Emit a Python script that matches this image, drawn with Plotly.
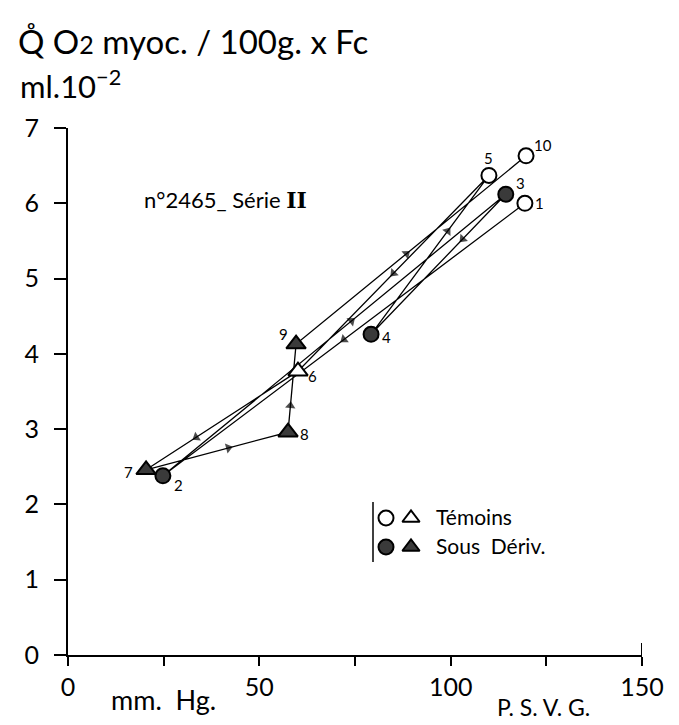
import plotly.graph_objects as go

# ---- data ----
point_ids = ["1", "2", "3", "4", "5", "6", "7", "8", "9", "10"]
psvg_mmhg = [119.4, 24.8, 114.4, 79.2, 110.0, 60.1, 20.4, 57.5, 59.6, 119.7]
qo2_myoc = [6.00, 2.38, 6.12, 4.26, 6.37, 3.77, 2.46, 2.96, 4.13, 6.63]
condition = ["Témoins", "Sous Dériv.", "Sous Dériv.", "Sous Dériv.", "Témoins",
             "Témoins", "Sous Dériv.", "Sous Dériv.", "Sous Dériv.", "Témoins"]
marker_kind = ["circle", "circle", "circle", "circle", "circle",
               "triangle-up", "triangle-up", "triangle-up", "triangle-up", "circle"]
x_tickvals = [0, 50, 100, 150]
y_tickvals = [0, 1, 2, 3, 4, 5, 6, 7]

# ---- style ----
W, H = 679, 725
ML, MR, MT, MB = 60, 45, 120, 78
FONT = "Lato, 'DejaVu Sans', sans-serif"
FILL = "#3a3a3a"
arrow_frac = [0.5, 0.55, 0.32, 0.65, 0.5, 0.67, 0.58, 0.3, 0.48]
label_off = {"1": (15, 0), "2": (16, -9), "3": (15, 11), "4": (15, -3), "5": (0, 17),
             "6": (15, -5), "7": (-18, -2), "8": (16, -2), "9": (-13, 10), "10": (17, 11)}

PW, PH = W - ML - MR, H - MT - MB


def paper_x(px):
    return (px - ML) / PW


def paper_y(py):
    return (H - MB - py) / PH


def data_xy(px, py):
    return ((px - ML) / PW * 150, (H - MB - py) / PH * 7)


fig = go.Figure()

# connecting path 1 -> 10
fig.add_trace(go.Scatter(x=psvg_mmhg, y=qo2_myoc, mode="lines",
                         line=dict(color="black", width=1.3),
                         hoverinfo="skip", showlegend=False, cliponaxis=False))

# direction arrowheads on each segment
for i in range(len(psvg_mmhg) - 1):
    f = arrow_frac[i]
    x0, y0 = psvg_mmhg[i], qo2_myoc[i]
    x1, y1 = psvg_mmhg[i + 1], qo2_myoc[i + 1]
    xm, ym = x0 + f * (x1 - x0), y0 + f * (y1 - y0)
    fig.add_trace(go.Scatter(x=[x0, xm], y=[y0, ym], mode="markers",
                             marker=dict(symbol="triangle-up", size=[0, 9], color="black",
                                         angleref="previous", line=dict(width=0)),
                             hoverinfo="skip", showlegend=False, cliponaxis=False))

# points
for i, pid in enumerate(point_ids):
    filled = condition[i] == "Sous Dériv."
    tri = marker_kind[i] == "triangle-up"
    fig.add_trace(go.Scatter(
        x=[psvg_mmhg[i]], y=[qo2_myoc[i]], mode="markers",
        marker=dict(symbol=marker_kind[i], size=17 if tri else 15,
                    color=FILL if filled else "white",
                    line=dict(color="black", width=2)),
        showlegend=False, cliponaxis=False, name=pid))
    dx, dy = label_off[pid]
    fig.add_annotation(x=psvg_mmhg[i], y=qo2_myoc[i], text=pid, showarrow=False,
                       xshift=dx, yshift=dy, font=dict(size=15, color="black", family=FONT))

# legend keys
legend_rows = [("Témoins", "white", 510), ("Sous  Dériv.", FILL, 539)]
for label, col, ypx in legend_rows:
    for xpx, sym, sz in [(378, "circle", 15), (403, "triangle-up", 15)]:
        lx, ly = data_xy(xpx, ypx)
        fig.add_trace(go.Scatter(x=[lx], y=[ly], mode="markers",
                                 marker=dict(symbol=sym, size=sz, color=col,
                                             line=dict(color="black", width=2)),
                                 showlegend=False, cliponaxis=False, hoverinfo="skip"))
    fig.add_annotation(xref="paper", yref="paper", x=paper_x(426), y=paper_y(ypx - 2),
                       xanchor="left", yanchor="middle", text=label, showarrow=False,
                       font=dict(size=21, color="black", family=FONT))
fig.add_shape(type="line", xref="paper", yref="paper",
              x0=paper_x(365), x1=paper_x(365), y0=paper_y(494), y1=paper_y(554),
              line=dict(color="black", width=1.5))

# upturned end tick at 150
fig.add_shape(type="line", xref="x", yref="paper", x0=150, x1=150,
              y0=0, y1=paper_y(H - MB - 12), line=dict(color="black", width=2))

# texts
fig.add_annotation(xref="paper", yref="paper", x=paper_x(8), y=paper_y(33),
                   xanchor="left", yanchor="middle", showarrow=False,
                   text="Q̊ O<span style='font-size:25px'>2</span> myoc. / 100g. x Fc",
                   font=dict(size=33, color="black", family=FONT))
fig.add_annotation(xref="paper", yref="paper", x=paper_x(10), y=paper_y(76),
                   xanchor="left", yanchor="middle", showarrow=False,
                   text="ml.10<sup>−2</sup>",
                   font=dict(size=31, color="black", family=FONT))
fig.add_annotation(xref="paper", yref="paper", x=paper_x(134), y=paper_y(191),
                   xanchor="left", yanchor="middle", showarrow=False,
                   text="n°2465_ Série <span style='font-family:\"DejaVu Serif\"'><b>II</b></span>",
                   font=dict(size=22, color="black", family=FONT))
fig.add_annotation(xref="paper", yref="paper", x=paper_x(155), y=paper_y(691),
                   xanchor="center", yanchor="middle", showarrow=False,
                   text="mm.  Hg.", font=dict(size=27, color="black", family=FONT))
fig.add_annotation(xref="paper", yref="paper", x=paper_x(535), y=paper_y(699),
                   xanchor="center", yanchor="middle", showarrow=False,
                   text="P. S. V. G.", font=dict(size=23, color="black", family=FONT))

axis_common = dict(showline=True, linecolor="black", linewidth=2, ticks="outside",
                   tickwidth=2, tickcolor="black", showgrid=False, zeroline=False,
                   tickfont=dict(size=25, color="black", family=FONT))
fig.update_xaxes(range=[0, 150], tickvals=x_tickvals, ticklen=9,
                 minor=dict(dtick=25, tick0=0, ticks="outside", ticklen=9, tickwidth=2,
                            tickcolor="black", showgrid=False),
                 **axis_common)
fig.update_yaxes(range=[0, 7], tickvals=y_tickvals, ticklen=12, ticklabelstandoff=10,
                 **axis_common)

fig.update_layout(width=W, height=H, margin=dict(l=ML, r=MR, t=MT, b=MB),
                  plot_bgcolor="white", paper_bgcolor="white", showlegend=False,
                  font=dict(family=FONT, color="black"))

fig.write_html("out.html")
